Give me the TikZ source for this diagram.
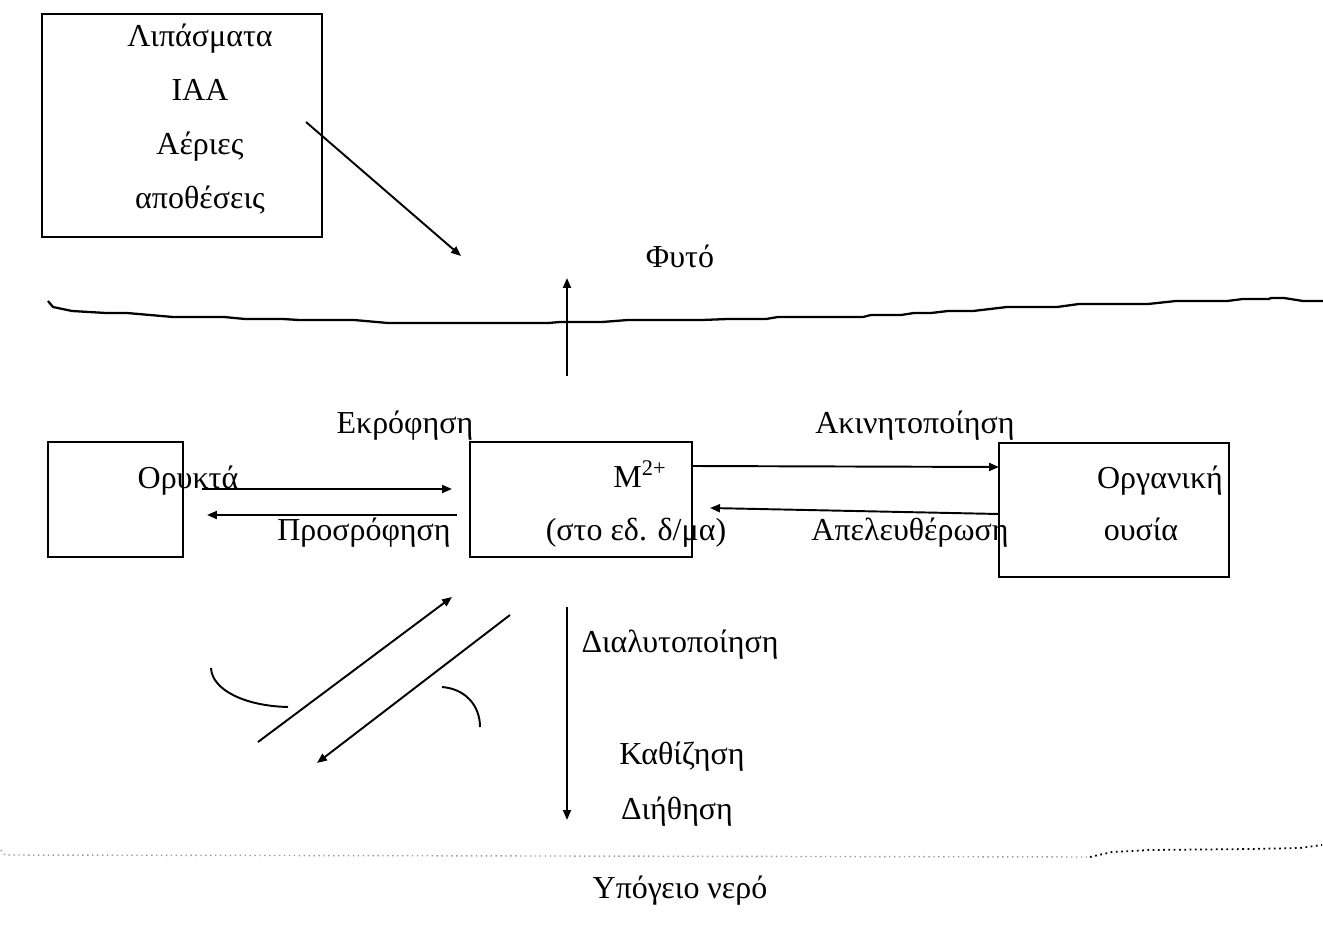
\documentclass[tikz,border=0pt]{standalone}
\usepackage{fontspec}
\setmainfont{Liberation Serif}
\usetikzlibrary{arrows.meta,calc,positioning}

\begin{document}
\begin{tikzpicture}[x=0.02cm,y=-0.02cm,font=\fontsize{18.2}{30.9}\selectfont]

\tikzset{poolbox/.style={draw,line width=1.1pt,inner sep=0pt},
lbl/.style={anchor=base,inner sep=0pt},
flow/.style={line width=1.1pt,-{Triangle[length=0.2cm,width=0.16cm]}},
soil/.style={line width=1.3pt,line join=round}}

\useasboundingbox (0,0) rectangle (1323,936);

% Pools
\node[poolbox,minimum width=5.6cm,minimum height=4.46cm] (inputs) at (182,125.5) {};
\node[poolbox,minimum width=2.7cm,minimum height=2.3cm] (minerals) at (115.5,499.5) {};
\node[poolbox,minimum width=4.44cm,minimum height=2.3cm] (soln) at (581,499.5) {};
\node[poolbox,minimum width=4.6cm,minimum height=2.68cm] (organic) at (1114,510) {};

% Pool texts
\node[align=center,inner sep=0pt] (inputsTxt) at (200,119) {Λιπάσματα\\IAA\\Αέριες\\αποθέσεις};
\node[lbl] (minTxt) at (188,488) {Ορυκτά};
\node[lbl] (ionTxt) at (640,487) {M\textsuperscript{2+}};
\node[lbl] (solnTxt) at (636,540) {(στο εδ. δ/μα)};
\node[lbl] (orgTxt) at (1160,488) {Οργανική};
\node[lbl] (orgTxt2) at (1141,540) {ουσία};

% Process labels
\node[lbl] (plant) at (680,267) {Φυτό};
\node[lbl] (desorb) at (405,433) {Εκρόφηση};
\node[lbl] (adsorb) at (364,540) {Προσρόφηση};
\node[lbl] (immob) at (915,433) {Ακινητοποίηση};
\node[lbl] (release) at (910,540) {Απελευθέρωση};
\node[lbl] (dissolve) at (680,652) {Διαλυτοποίηση};
\node[lbl] (settle) at (682,764) {Καθίζηση};
\node[lbl] (leach) at (677,819) {Διήθηση};
\node[lbl] (ground) at (680,898) {Υπόγειο νερό};

% Soil surface
\draw[soil] (48,301) -- (53,307) -- (72,311) -- (106,313) -- (127,313) -- (173,317) -- (224,317)
  -- (245,319) -- (283,319) -- (299,320) -- (354,320) -- (388,323) -- (548,323) -- (560,322)
  -- (602,322) -- (628,320) -- (702,320) -- (728,319) -- (766,319) -- (778,317) -- (863,317)
  -- (871,315) -- (901,315) -- (914,313) -- (931,313) -- (948,311) -- (973,311) -- (1007,307)
  -- (1057,307) -- (1079,304) -- (1148,304) -- (1176,301) -- (1227,301) -- (1243,299)
  -- (1269,299) -- (1271,298) -- (1284,298) -- (1303,301) -- (1323,301);

% Groundwater level
\draw[black!40,line width=0.8pt,dotted] (1,850) -- (5,855) -- (1090,857);
\draw[line width=1pt,dotted] (1090,857) -- (1112,852) -- (1150,850) -- (1250,849) -- (1300,848) -- (1322,845);

% Arrow ends
\coordinate (fertTail) at (306,122); \coordinate (fertHead) at (461,256);
\coordinate (upTail) at (567,376); \coordinate (upHead) at (567,278);
\coordinate (desTail) at (202,489); \coordinate (desHead) at (452,489);
\coordinate (adsTail) at (457,515); \coordinate (adsHead) at (207,515);
\coordinate (immTail) at (692,466); \coordinate (immHead) at (999,467);
\coordinate (relTail) at (999,514); \coordinate (relHead) at (710,508);
\coordinate (dupTail) at (258,742); \coordinate (dupHead) at (452,597);
\coordinate (ddnTail) at (510,615); \coordinate (ddnHead) at (317,763);
\coordinate (downTail) at (567,607); \coordinate (downHead) at (567,820);

% Flows
\draw[flow] (fertTail) -- (fertHead);
\draw[flow] (upTail) -- (upHead);
\draw[flow] (desTail) -- (desHead);
\draw[flow] (adsTail) -- (adsHead);
\draw[flow] (immTail) -- (immHead);
\draw[flow] (relTail) -- (relHead);
\draw[flow] (dupTail) -- (dupHead);
\draw[flow] (ddnTail) -- (ddnHead);
\draw[flow] (downTail) -- (downHead);

% Arcs
\draw[line width=1.1pt] (211,668) .. controls (212,690) and (245,706) .. (288,707);
\draw[line width=1.1pt] (442,687) .. controls (466,689) and (480,706) .. (480,727);

\end{tikzpicture}
\end{document}
